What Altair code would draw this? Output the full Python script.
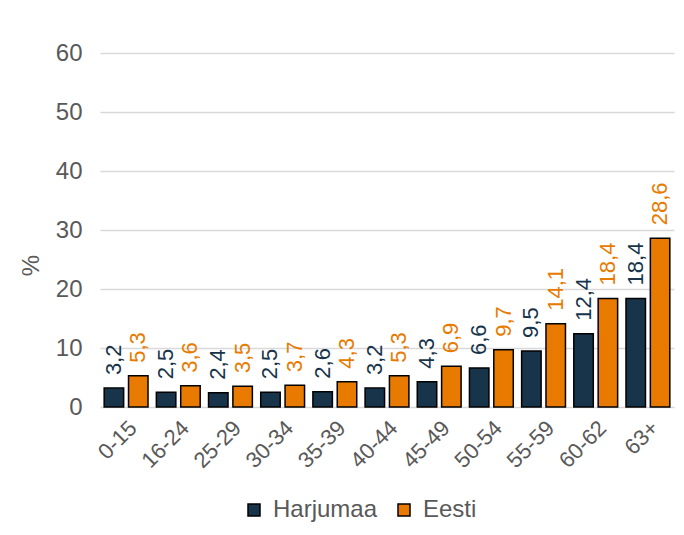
import altair as alt
import pandas as pd

categories = ["0-15", "16-24", "25-29", "30-34", "35-39", "40-44", "45-49", "50-54", "55-59", "60-62", "63+"]
harjumaa = [3.2, 2.5, 2.4, 2.5, 2.6, 3.2, 4.3, 6.6, 9.5, 12.4, 18.4]
eesti = [5.3, 3.6, 3.5, 3.7, 4.3, 5.3, 6.9, 9.7, 14.1, 18.4, 28.6]
series = ["Harjumaa", "Eesti"]
colors = ["#17344b", "#e87a00"]

rows = []
for c, h, e in zip(categories, harjumaa, eesti):
    rows.append({"cat": c, "series": "Harjumaa", "value": h})
    rows.append({"cat": c, "series": "Eesti", "value": e})
df = pd.DataFrame(rows)

FONT = "Liberation Sans"
GREY = "#595959"

x = alt.X("cat:N", sort=categories, title=None,
          scale=alt.Scale(paddingInner=0.16, paddingOuter=0.08),
          axis=alt.Axis(labelAngle=-45, labelFontSize=22, labelColor=GREY, labelFont=FONT,
                        ticks=False, domain=False, labelPadding=10))
xoff = alt.XOffset("series:N", sort=series, scale=alt.Scale(paddingInner=0.2))
y = alt.Y("value:Q", title="%",
          scale=alt.Scale(domain=[0, 60]),
          axis=alt.Axis(values=[0, 10, 20, 30, 40, 50, 60], labelFontSize=24, labelColor=GREY,
                        labelFont=FONT, titleFont=FONT, titleFontSize=24, titleColor=GREY,
                        titleFontWeight="normal", ticks=False, domain=False, labelPadding=18,
                        gridColor="#d9d9d9", gridWidth=1.5,
                        titleX=-69, titleY=212, titleAngle=270, titleAlign="center",
                        titleBaseline="middle"))

base = alt.Chart(df).encode(x=x, xOffset=xoff, y=y)

bars = base.mark_bar(stroke="black", strokeWidth=1.5).encode(
    color=alt.Color("series:N", sort=series,
                    scale=alt.Scale(domain=series, range=colors),
                    legend=alt.Legend(title=None, orient="none", legendX=142, legendY=445,
                                      direction="horizontal", symbolType="square", symbolSize=144,
                                      symbolStrokeColor="black", symbolStrokeWidth=1.5,
                                      labelFontSize=24, labelFont=FONT, labelColor=GREY,
                                      columnPadding=14, labelOffset=7, padding=0))
)

labels = base.transform_calculate(
    label="replace(format(datum.value, '.1f'), '.', ',')"
).mark_text(angle=270, align="left", baseline="middle", dx=13, fontSize=22, font=FONT).encode(
    text="label:N",
    color=alt.Color("series:N", sort=series, scale=alt.Scale(domain=series, range=colors), legend=None)
)

chart = alt.layer(bars, labels).properties(
    width=574, height=354,
    autosize=alt.AutoSizeParams(type="none"),
    padding={"left": 92, "top": 45, "right": 2, "bottom": 120},
    background="white"
).configure_view(stroke=None)

chart.save("out.html", embed_options={"renderer": "svg", "actions": False})
